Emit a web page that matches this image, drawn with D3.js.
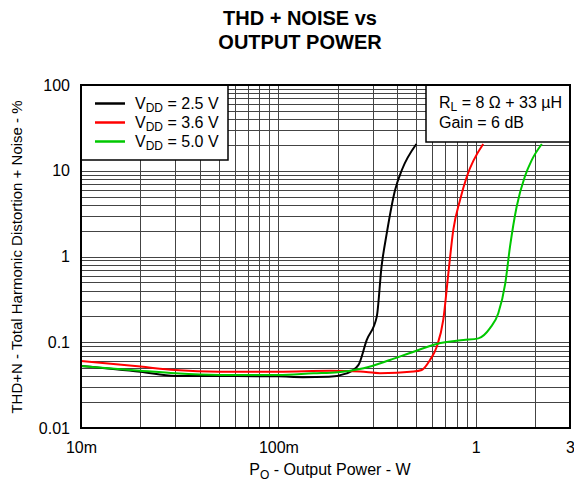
<!DOCTYPE html>
<html><head><meta charset="utf-8">
<script src="https://cdn.jsdelivr.net/npm/d3@7"></script>
<style>
body{margin:0;background:#fff;}
svg{display:block;font-family:"Liberation Sans",Arial,sans-serif;}
</style></head>
<body><svg id="c" width="574" height="483"></svg>
<script>
const xTickValues = [0.01, 0.1, 1, 3];
const xTickLabels = ["10m", "100m", "1", "3"];
const yTickValues = [0.01, 0.1, 1, 10, 100];
const yTickLabels = ["0.01", "0.1", "1", "10", "100"];

const seriesNames = ["2.5 V", "3.6 V", "5.0 V"];
const seriesColors = ["#000000", "#ff0000", "#00c800"];

const black_x = [0.01, 0.02, 0.03, 0.05, 0.1, 0.133, 0.18, 0.222, 0.254, 0.28, 0.315, 0.333, 0.354, 0.39, 0.422, 0.5];
const black_y = [0.053, 0.0454, 0.0404, 0.0404, 0.0400, 0.0392, 0.0397, 0.0434, 0.054, 0.106, 0.199, 0.76, 1.87, 5.96, 10.2, 20.5];
const red_x = [0.01, 0.02, 0.03, 0.05, 0.1, 0.182, 0.26, 0.327, 0.484, 0.532, 0.586, 0.634, 0.684, 0.726, 0.769, 0.832, 0.9, 1.09];
const red_y = [0.0604, 0.052, 0.0474, 0.0454, 0.0454, 0.0465, 0.0455, 0.0436, 0.0455, 0.0474, 0.062, 0.0887, 0.182, 0.637, 2.04, 4.56, 8.5, 20.5];
const green_x = [0.01, 0.02, 0.03, 0.05, 0.1, 0.15, 0.2, 0.27, 0.367, 0.484, 0.634, 0.865, 1.03, 1.18, 1.30, 1.41, 1.49, 1.61, 1.77, 1.92, 2.16];
const green_y = [0.0528, 0.0466, 0.0434, 0.0415, 0.0415, 0.0434, 0.0447, 0.0497, 0.062, 0.0776, 0.0955, 0.106, 0.111, 0.146, 0.218, 0.487, 1.3, 3.81, 8.5, 13.3, 20.5];

const svg = d3.select("#c");
const L = 81, R = 570, T = 85, B = 428;
const x = d3.scaleLog().domain([0.01, 3]).range([L, R]);
const y = d3.scaleLog().domain([0.01, 100]).range([B, T]);
const FS = 16;

// grid
const xGrid = [];
for (let d = 0.01; d < 3; d *= 10) for (let k = 1; k <= 9; k++) { const v = d * k; if (v > 0.0100001 && v < 2.9999) xGrid.push(v); }
const yGrid = [];
for (let d = 0.01; d < 100; d *= 10) for (let k = 1; k <= 9; k++) { const v = d * k; if (v > 0.0100001 && v < 99.999) yGrid.push(v); }
const g = svg.append("g").attr("shape-rendering", "crispEdges");
g.selectAll(".gx").data(xGrid).join("line")
  .attr("x1", d => Math.round(x(d)) + 0.5).attr("x2", d => Math.round(x(d)) + 0.5)
  .attr("y1", T).attr("y2", B).attr("stroke", "#444").attr("stroke-width", 1);
g.selectAll(".gy").data(yGrid).join("line")
  .attr("y1", d => Math.round(y(d)) + 0.5).attr("y2", d => Math.round(y(d)) + 0.5)
  .attr("x1", L).attr("x2", R).attr("stroke", "#444").attr("stroke-width", 1);

// curves
const series = [
  black_x.map((v, i) => [v, black_y[i]]),
  red_x.map((v, i) => [v, red_y[i]]),
  green_x.map((v, i) => [v, green_y[i]])
];
const line = d3.line().x(d => x(d[0])).y(d => y(d[1])).curve(d3.curveMonotoneX);
svg.append("clipPath").attr("id", "clip").append("rect").attr("x", L).attr("y", T).attr("width", R - L).attr("height", B - T);
svg.append("g").attr("clip-path", "url(#clip)").selectAll("path").data(series).join("path")
  .attr("d", line).attr("fill", "none").attr("stroke", (d, i) => seriesColors[i]).attr("stroke-width", 2);

// axes (labels only)
const xAxis = d3.axisBottom(x).tickValues(xTickValues).tickFormat((d, i) => xTickLabels[i]).tickSize(0).tickPadding(14);
const ax = svg.append("g").attr("transform", `translate(0,${B})`).call(xAxis);
ax.select(".domain").remove();
ax.selectAll("text").attr("font-size", FS).attr("fill", "#000").attr("font-family", "Liberation Sans, Arial, sans-serif");
const yAxis = d3.axisLeft(y).tickValues(yTickValues).tickFormat((d, i) => yTickLabels[i]).tickSize(0).tickPadding(11);
const ay = svg.append("g").attr("transform", `translate(${L},0)`).call(yAxis);
ay.select(".domain").remove();
ay.selectAll("text").attr("font-size", FS).attr("fill", "#000").attr("font-family", "Liberation Sans, Arial, sans-serif");

// title
svg.append("text").attr("x", 300).attr("y", 25).attr("text-anchor", "middle").attr("font-size", 20).attr("font-weight", "bold").text("THD + NOISE vs");
svg.append("text").attr("x", 300).attr("y", 49).attr("text-anchor", "middle").attr("font-size", 20).attr("font-weight", "bold").text("OUTPUT POWER");

// axis titles
const xt = svg.append("text").attr("x", 330).attr("y", 475).attr("text-anchor", "middle").attr("font-size", FS);
xt.append("tspan").text("P");
xt.append("tspan").attr("font-size", 12).attr("dy", 4).text("O");
xt.append("tspan").attr("dy", -4).text(" - Output Power - W");
svg.append("text").attr("transform", "translate(22,257) rotate(-90)").attr("text-anchor", "middle").attr("font-size", 15)
  .text("THD+N - Total Harmonic Distortion + Noise - %");

// legend
svg.append("rect").attr("x", L).attr("y", T).attr("width", 147).attr("height", 75).attr("fill", "#fff").attr("stroke", "#000").attr("stroke-width", 1.5);
seriesNames.forEach((n, i) => {
  const yy = 103.5 + i * 19;
  svg.append("line").attr("x1", 95).attr("x2", 125).attr("y1", yy).attr("y2", yy).attr("stroke", seriesColors[i]).attr("stroke-width", 2.5);
  const t = svg.append("text").attr("x", 135).attr("y", yy + 5).attr("font-size", FS);
  t.append("tspan").text("V");
  t.append("tspan").attr("font-size", 12).attr("dy", 3).text("DD");
  t.append("tspan").attr("dy", -3).text(" = " + n);
});

// conditions box
svg.append("rect").attr("x", 426).attr("y", T).attr("width", R - 426).attr("height", 57).attr("fill", "#fff").attr("stroke", "#000").attr("stroke-width", 1.5);
const c1 = svg.append("text").attr("x", 439).attr("y", 108).attr("font-size", FS);
c1.append("tspan").text("R");
c1.append("tspan").attr("font-size", 12).attr("dy", 3).text("L");
c1.append("tspan").attr("dy", -3).text(" = 8 \u03A9 + 33 \u00B5H");
svg.append("text").attr("x", 439).attr("y", 128).attr("font-size", FS).text("Gain = 6 dB");

// frame
svg.append("rect").attr("x", L).attr("y", T).attr("width", R - L).attr("height", B - T)
  .attr("fill", "none").attr("stroke", "#000").attr("stroke-width", 2);
</script></body></html>
